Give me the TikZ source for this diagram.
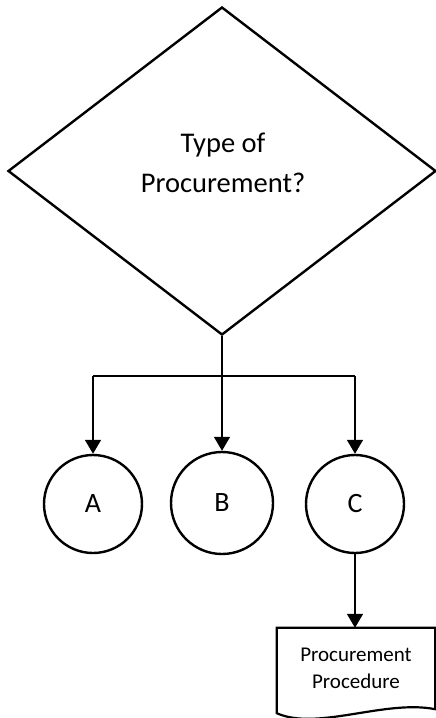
\documentclass[tikz,border=0pt]{standalone}
\usepackage{fontspec}
\setmainfont{Carlito}
\usetikzlibrary{shapes.geometric,arrows.meta}
\begin{document}
\begin{tikzpicture}[x=1pt,y=-1pt,
  decision/.style={diamond, draw, line width=2.4pt, minimum width=428pt, minimum height=328pt, inner sep=0pt},
  bigtext/.style={align=center, inner sep=0pt, font=\fontsize{28.5}{40}\selectfont},
  state/.style={circle, draw, line width=2.4pt, minimum size=98pt, inner sep=0pt, font=\fontsize{28}{30}\selectfont},
  conn/.style={line width=1.6pt},
  arr/.style={conn, -{Triangle[width=16pt,length=14pt]}},
  procbox/.style={minimum width=158pt, minimum height=80pt, inner sep=0pt, align=center, font=\fontsize{21}{27}\selectfont},
  outline/.style={line width=2.2pt, line join=miter}
]
\useasboundingbox (0,0) rectangle (436,718);
\node[decision] (q) at (222,171) {};
\node[bigtext] (qt) at (223,163) {Type of\\Procurement?};
\node[state] (a) at (93,504) {A};
\node[state, minimum size=102pt] (b) at (222,503) {B};
\node[state] (c) at (355,504) {C};
\node[procbox] (p) at (356,668) {Procurement\\Procedure};
\coordinate (j) at (222,376);
\draw[conn] (a.north |- j) -- (c.north |- j);
\draw[arr] (q.south) -- (b.north);
\draw[arr] (a.north |- j) -- (a.north);
\draw[arr] (c.north |- j) -- (c.north);
\draw[arr] (c.south) -- (p.north -| c.south);
\draw[outline] ([yshift=-5pt]p.south west) -- (p.north west) -- (p.north east) -- ([yshift=-1pt]p.south east)
  .. controls +(-50,-10) and +(40,18) .. ([yshift=-5pt]p.south west) -- cycle;
\end{tikzpicture}
\end{document}
